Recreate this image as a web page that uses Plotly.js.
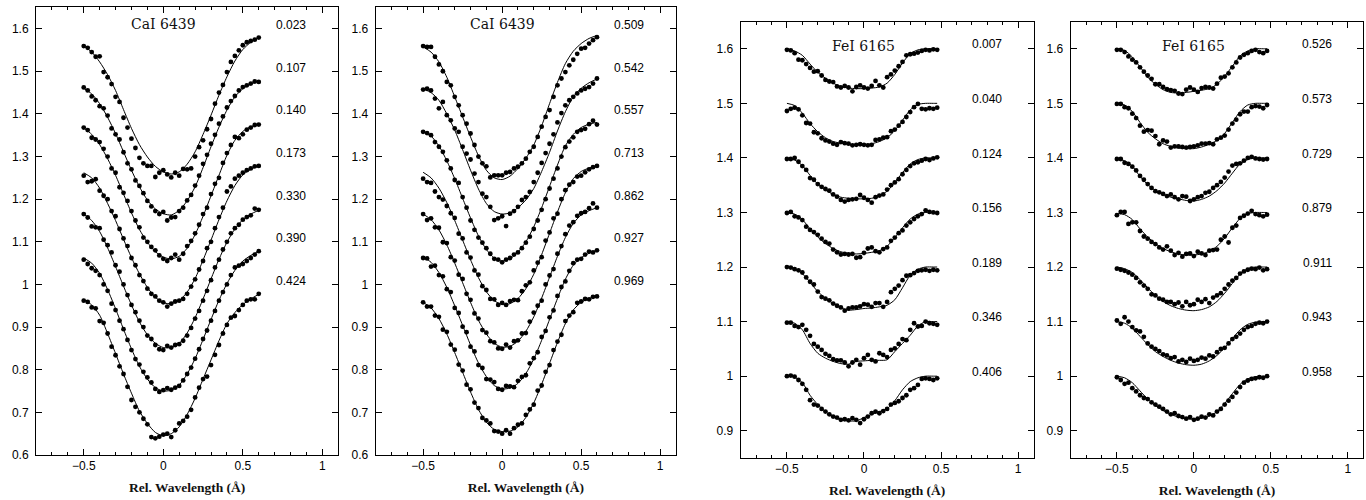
<!DOCTYPE html>
<html>
<head>
<meta charset="utf-8">
<script src="https://cdn.plot.ly/plotly-3.0.1.min.js"></script>
<style>
  html, body { margin: 0; padding: 0; background: #ffffff; }
  #chart { width: 1366px; height: 500px; }
</style>
</head>
<body>
<div id="chart"></div>
<script>
// Line-profile series: normalized flux, each phase shifted upward by 0.1 for display.

// ---- Ca I 6439: wavelength grids (Å, relative to line centre) ----
const caObsX = [-0.5,-0.475,-0.45,-0.425,-0.4,-0.375,-0.35,-0.325,-0.3,-0.275,-0.25,-0.225,-0.2,-0.175,-0.15,-0.125,-0.1,-0.075,-0.05,-0.025,0,0.025,0.05,0.075,0.1,0.125,0.15,0.175,0.2,0.225,0.25,0.275,0.3,0.325,0.35,0.375,0.4,0.425,0.45,0.475,0.5,0.525,0.55,0.575,0.6];
const caFitX = [-0.5,-0.45,-0.4,-0.35,-0.3,-0.25,-0.2,-0.15,-0.1,-0.05,0,0.05,0.1,0.15,0.2,0.25,0.3,0.35,0.4,0.45,0.5,0.55,0.6];

// ---- Fe I 6165: wavelength grids ----
const feObsX = [-0.5,-0.475,-0.45,-0.425,-0.4,-0.375,-0.35,-0.325,-0.3,-0.275,-0.25,-0.225,-0.2,-0.175,-0.15,-0.125,-0.1,-0.075,-0.05,-0.025,0,0.025,0.05,0.075,0.1,0.125,0.15,0.175,0.2,0.225,0.25,0.275,0.3,0.325,0.35,0.375,0.4,0.425,0.45,0.475];
const feFitX = [-0.5,-0.45,-0.4,-0.35,-0.3,-0.25,-0.2,-0.15,-0.1,-0.05,0,0.05,0.1,0.15,0.2,0.25,0.3,0.35,0.4,0.45,0.475];

// ---- Panel 1: Ca I, first half of the cycle ----
const caPhasesA = ['0.023','0.107','0.140','0.173','0.330','0.390','0.424'];
const caObsA = [
  [1.559,1.555,1.545,1.534,1.535,1.498,1.486,1.470,1.440,1.428,1.391,1.368,1.342,1.320,1.297,1.284,1.278,1.278,1.252,1.262,1.268,1.258,1.251,1.262,1.255,1.271,1.270,1.272,1.300,1.322,1.338,1.364,1.388,1.424,1.450,1.468,1.498,1.522,1.536,1.549,1.561,1.568,1.571,1.574,1.579],
  [1.462,1.455,1.441,1.432,1.418,1.413,1.396,1.366,1.352,1.340,1.310,1.284,1.270,1.244,1.231,1.214,1.196,1.183,1.172,1.165,1.170,1.150,1.157,1.158,1.172,1.180,1.197,1.210,1.232,1.255,1.283,1.304,1.330,1.351,1.377,1.394,1.415,1.430,1.442,1.455,1.463,1.467,1.471,1.476,1.475],
  [1.368,1.362,1.344,1.340,1.334,1.318,1.300,1.272,1.262,1.228,1.215,1.196,1.172,1.150,1.134,1.110,1.100,1.088,1.080,1.068,1.060,1.055,1.062,1.070,1.058,1.072,1.090,1.102,1.120,1.140,1.165,1.180,1.212,1.236,1.250,1.285,1.308,1.327,1.346,1.343,1.352,1.363,1.368,1.374,1.375],
  [1.255,1.240,1.242,1.247,1.220,1.208,1.200,1.172,1.160,1.130,1.108,1.090,1.062,1.045,1.022,1.008,0.990,0.978,0.972,0.962,0.958,0.948,0.955,0.960,0.962,0.966,0.978,0.995,1.012,1.035,1.055,1.085,1.100,1.132,1.158,1.180,1.218,1.230,1.248,1.255,1.262,1.268,1.272,1.277,1.278],
  [1.165,1.157,1.136,1.134,1.132,1.105,1.092,1.075,1.045,1.030,1.000,0.975,0.952,0.935,0.915,0.900,0.880,0.872,0.858,0.848,0.846,0.856,0.852,0.858,0.860,0.868,0.880,0.898,0.920,0.938,0.962,0.985,1.010,1.040,1.058,1.082,1.100,1.120,1.132,1.140,1.152,1.158,1.162,1.178,1.175],
  [1.058,1.048,1.038,1.032,1.022,1.000,0.985,0.955,0.940,0.915,0.895,0.870,0.846,0.825,0.812,0.795,0.782,0.770,0.755,0.748,0.752,0.757,0.753,0.758,0.762,0.775,0.790,0.805,0.826,0.848,0.872,0.892,0.915,0.938,0.962,0.982,1.000,1.022,1.040,1.044,1.048,1.055,1.062,1.070,1.078],
  [0.962,0.959,0.946,0.944,0.914,0.910,0.885,0.854,0.834,0.808,0.790,0.760,0.729,0.713,0.700,0.685,0.672,0.642,0.639,0.643,0.648,0.650,0.642,0.658,0.674,0.680,0.690,0.706,0.735,0.758,0.778,0.784,0.811,0.835,0.858,0.885,0.905,0.922,0.926,0.940,0.952,0.962,0.965,0.965,0.978]
];
const caFitA = [
  [1.559,1.545,1.522,1.492,1.455,1.410,1.366,1.328,1.299,1.277,1.264,1.259,1.264,1.282,1.311,1.352,1.397,1.444,1.487,1.524,1.551,1.568,1.579],
  [1.460,1.447,1.424,1.392,1.354,1.311,1.268,1.229,1.198,1.177,1.166,1.163,1.174,1.196,1.229,1.274,1.323,1.369,1.409,1.440,1.459,1.470,1.477],
  [1.367,1.352,1.328,1.295,1.256,1.212,1.168,1.129,1.099,1.077,1.064,1.060,1.066,1.085,1.117,1.160,1.208,1.256,1.303,1.338,1.359,1.370,1.376],
  [1.262,1.250,1.226,1.190,1.150,1.106,1.063,1.025,0.993,0.970,0.957,0.955,0.962,0.982,1.014,1.057,1.104,1.152,1.196,1.232,1.257,1.270,1.278],
  [1.165,1.150,1.124,1.086,1.042,0.996,0.952,0.912,0.882,0.862,0.852,0.852,0.862,0.886,0.922,0.966,1.013,1.059,1.099,1.130,1.152,1.165,1.174],
  [1.062,1.050,1.026,0.988,0.943,0.895,0.849,0.808,0.778,0.758,0.750,0.752,0.764,0.790,0.826,0.871,0.918,0.963,1.002,1.033,1.055,1.068,1.078],
  [0.965,0.952,0.928,0.885,0.838,0.790,0.745,0.703,0.674,0.653,0.645,0.650,0.666,0.695,0.733,0.778,0.823,0.868,0.908,0.934,0.953,0.966,0.977]
];

// ---- Panel 2: Ca I, second half of the cycle ----
const caPhasesB = ['0.509','0.542','0.557','0.713','0.862','0.927','0.969'];
const caObsB = [
  [1.559,1.557,1.557,1.534,1.516,1.500,1.475,1.467,1.440,1.420,1.397,1.377,1.354,1.327,1.300,1.284,1.277,1.251,1.256,1.256,1.256,1.262,1.264,1.272,1.276,1.284,1.295,1.311,1.323,1.346,1.370,1.393,1.409,1.440,1.467,1.483,1.498,1.514,1.527,1.541,1.553,1.555,1.565,1.573,1.580],
  [1.457,1.459,1.455,1.436,1.413,1.428,1.397,1.385,1.366,1.358,1.323,1.307,1.293,1.260,1.240,1.213,1.205,1.182,1.151,1.155,1.160,1.137,1.166,1.172,1.182,1.198,1.205,1.217,1.240,1.262,1.285,1.308,1.330,1.352,1.380,1.402,1.420,1.432,1.440,1.448,1.455,1.459,1.463,1.471,1.483],
  [1.358,1.355,1.350,1.334,1.323,1.311,1.291,1.272,1.245,1.238,1.205,1.180,1.150,1.128,1.110,1.098,1.085,1.072,1.060,1.058,1.052,1.058,1.062,1.070,1.075,1.085,1.098,1.112,1.130,1.150,1.175,1.200,1.225,1.248,1.272,1.300,1.322,1.335,1.345,1.358,1.362,1.365,1.376,1.384,1.375],
  [1.248,1.240,1.238,1.218,1.205,1.199,1.184,1.167,1.156,1.119,1.108,1.075,1.063,1.033,1.023,0.996,0.987,0.966,0.965,0.952,0.957,0.952,0.961,0.964,0.963,0.984,0.998,1.005,1.033,1.051,1.064,1.103,1.122,1.155,1.166,1.200,1.221,1.234,1.240,1.253,1.255,1.263,1.270,1.275,1.278],
  [1.165,1.151,1.155,1.134,1.133,1.099,1.097,1.064,1.056,1.023,1.013,0.978,0.964,0.932,0.920,0.893,0.887,0.867,0.864,0.850,0.849,0.859,0.852,0.867,0.869,0.885,0.886,0.913,0.934,0.950,0.962,1.000,1.021,1.036,1.072,1.090,1.118,1.138,1.146,1.161,1.167,1.170,1.179,1.190,1.180],
  [1.062,1.061,1.042,1.044,1.022,1.019,0.989,0.982,0.945,0.933,0.901,0.888,0.854,0.843,0.811,0.804,0.778,0.777,0.771,0.755,0.753,0.762,0.761,0.759,0.774,0.783,0.787,0.815,0.827,0.841,0.877,0.891,0.923,0.939,0.973,0.994,1.007,1.032,1.050,1.058,1.060,1.070,1.077,1.075,1.080],
  [0.958,0.948,0.948,0.927,0.924,0.894,0.889,0.859,0.847,0.812,0.798,0.765,0.754,0.723,0.710,0.687,0.681,0.674,0.656,0.655,0.650,0.658,0.650,0.663,0.671,0.674,0.694,0.707,0.718,0.751,0.763,0.795,0.811,0.846,0.866,0.882,0.914,0.927,0.935,0.957,0.960,0.966,0.965,0.971,0.972]
];
const caFitB = [
  [1.557,1.545,1.522,1.486,1.440,1.393,1.346,1.302,1.268,1.250,1.246,1.254,1.272,1.296,1.327,1.372,1.424,1.474,1.518,1.547,1.565,1.577,1.584],
  [1.459,1.450,1.432,1.400,1.362,1.316,1.268,1.224,1.190,1.171,1.165,1.168,1.180,1.198,1.225,1.265,1.310,1.360,1.405,1.440,1.460,1.473,1.482],
  [1.358,1.348,1.325,1.290,1.248,1.202,1.156,1.114,1.082,1.062,1.055,1.060,1.076,1.100,1.135,1.180,1.230,1.280,1.325,1.352,1.368,1.376,1.380],
  [1.263,1.250,1.226,1.192,1.150,1.104,1.058,1.016,0.983,0.962,0.953,0.955,0.967,0.990,1.024,1.070,1.120,1.170,1.215,1.248,1.265,1.273,1.278],
  [1.165,1.152,1.128,1.093,1.050,1.004,0.958,0.916,0.884,0.862,0.853,0.855,0.867,0.890,0.924,0.968,1.017,1.066,1.110,1.143,1.163,1.173,1.180],
  [1.065,1.052,1.028,0.993,0.950,0.904,0.858,0.816,0.784,0.763,0.755,0.757,0.768,0.791,0.825,0.869,0.918,0.967,1.012,1.045,1.063,1.073,1.080],
  [0.958,0.945,0.920,0.884,0.840,0.794,0.748,0.707,0.677,0.660,0.655,0.656,0.666,0.688,0.722,0.766,0.815,0.864,0.908,0.940,0.958,0.967,0.972]
];

// ---- Panel 3: Fe I, first half of the cycle ----
const fePhasesA = ['0.007','0.040','0.124','0.156','0.189','0.346','0.406'];
const feObsA = [
  [1.598,1.597,1.592,1.580,1.579,1.572,1.565,1.558,1.559,1.551,1.543,1.540,1.539,1.531,1.529,1.532,1.529,1.522,1.530,1.533,1.529,1.527,1.532,1.541,1.533,1.529,1.548,1.553,1.560,1.568,1.576,1.588,1.590,1.591,1.593,1.596,1.598,1.597,1.599,1.598],
  [1.486,1.490,1.492,1.489,1.478,1.464,1.463,1.447,1.445,1.436,1.432,1.430,1.426,1.424,1.429,1.427,1.426,1.423,1.424,1.425,1.424,1.423,1.424,1.433,1.434,1.437,1.438,1.449,1.452,1.459,1.466,1.475,1.484,1.493,1.499,1.490,1.489,1.491,1.490,1.492],
  [1.398,1.398,1.400,1.393,1.385,1.378,1.363,1.360,1.352,1.347,1.343,1.340,1.333,1.329,1.323,1.320,1.323,1.324,1.325,1.332,1.327,1.323,1.318,1.328,1.331,1.333,1.342,1.350,1.355,1.361,1.370,1.378,1.385,1.390,1.392,1.395,1.398,1.396,1.399,1.401],
  [1.299,1.301,1.293,1.291,1.286,1.274,1.268,1.264,1.259,1.252,1.246,1.243,1.232,1.227,1.223,1.224,1.223,1.224,1.217,1.218,1.226,1.234,1.236,1.229,1.227,1.233,1.236,1.248,1.254,1.262,1.267,1.276,1.282,1.288,1.293,1.297,1.304,1.301,1.300,1.299],
  [1.200,1.199,1.196,1.194,1.190,1.181,1.173,1.168,1.155,1.145,1.142,1.139,1.133,1.129,1.126,1.120,1.124,1.126,1.126,1.128,1.132,1.131,1.127,1.134,1.134,1.127,1.136,1.154,1.160,1.166,1.176,1.184,1.185,1.189,1.193,1.194,1.195,1.193,1.195,1.194],
  [1.098,1.098,1.092,1.090,1.094,1.085,1.074,1.059,1.054,1.048,1.041,1.037,1.031,1.029,1.029,1.025,1.018,1.025,1.030,1.021,1.033,1.039,1.030,1.027,1.042,1.039,1.035,1.048,1.051,1.059,1.068,1.066,1.085,1.097,1.091,1.092,1.100,1.097,1.096,1.094],
  [1.000,1.001,0.999,0.993,0.986,0.975,0.956,0.948,0.946,0.940,0.935,0.930,0.926,0.924,0.920,0.921,0.919,0.923,0.920,0.914,0.921,0.926,0.932,0.935,0.932,0.936,0.940,0.948,0.951,0.954,0.960,0.965,0.975,0.978,0.984,0.995,0.996,0.995,0.993,0.996]
];
const feFitA = [
  [1.600,1.596,1.588,1.572,1.557,1.546,1.537,1.531,1.528,1.527,1.527,1.528,1.530,1.537,1.553,1.574,1.591,1.598,1.600,1.600,1.600],
  [1.500,1.496,1.482,1.463,1.448,1.437,1.430,1.427,1.425,1.424,1.424,1.426,1.430,1.437,1.450,1.469,1.488,1.498,1.500,1.500,1.500],
  [1.398,1.396,1.386,1.368,1.352,1.341,1.333,1.328,1.326,1.325,1.325,1.326,1.330,1.339,1.355,1.373,1.389,1.397,1.400,1.400,1.400],
  [1.300,1.297,1.287,1.270,1.255,1.243,1.234,1.228,1.225,1.224,1.225,1.227,1.230,1.238,1.254,1.272,1.288,1.297,1.300,1.300,1.300],
  [1.200,1.197,1.188,1.172,1.155,1.143,1.133,1.125,1.121,1.122,1.124,1.125,1.127,1.130,1.140,1.162,1.185,1.196,1.200,1.200,1.200],
  [1.100,1.097,1.085,1.060,1.042,1.033,1.027,1.023,1.022,1.027,1.028,1.029,1.029,1.030,1.045,1.060,1.075,1.092,1.100,1.100,1.100],
  [1.000,0.998,0.988,0.965,0.948,0.935,0.925,0.920,0.918,0.918,0.924,0.930,0.935,0.940,0.955,0.975,0.990,0.997,1.000,1.000,1.000]
];

// ---- Panel 4: Fe I, second half of the cycle ----
const fePhasesB = ['0.526','0.573','0.729','0.879','0.911','0.943','0.958'];
const feObsB = [
  [1.598,1.598,1.594,1.586,1.580,1.575,1.566,1.558,1.551,1.545,1.535,1.535,1.530,1.526,1.524,1.523,1.518,1.517,1.525,1.529,1.525,1.521,1.528,1.530,1.529,1.527,1.536,1.547,1.549,1.555,1.566,1.575,1.584,1.589,1.592,1.596,1.598,1.594,1.592,1.596],
  [1.499,1.499,1.493,1.491,1.481,1.473,1.459,1.448,1.451,1.450,1.440,1.425,1.432,1.430,1.419,1.421,1.421,1.420,1.419,1.420,1.421,1.423,1.426,1.426,1.427,1.425,1.434,1.437,1.441,1.452,1.463,1.470,1.480,1.485,1.485,1.493,1.495,1.494,1.491,1.497],
  [1.398,1.398,1.391,1.389,1.384,1.377,1.367,1.360,1.352,1.345,1.339,1.337,1.334,1.330,1.333,1.328,1.324,1.330,1.329,1.321,1.324,1.328,1.330,1.336,1.338,1.345,1.350,1.356,1.364,1.375,1.386,1.389,1.390,1.395,1.400,1.402,1.399,1.398,1.397,1.398],
  [1.295,1.301,1.301,1.279,1.282,1.282,1.266,1.256,1.252,1.246,1.242,1.236,1.232,1.238,1.230,1.222,1.226,1.219,1.224,1.225,1.220,1.228,1.225,1.222,1.230,1.231,1.232,1.250,1.256,1.245,1.272,1.276,1.290,1.294,1.298,1.303,1.297,1.295,1.293,1.296],
  [1.197,1.195,1.193,1.190,1.186,1.180,1.172,1.166,1.160,1.150,1.148,1.142,1.140,1.136,1.136,1.132,1.135,1.128,1.136,1.130,1.132,1.140,1.136,1.141,1.134,1.144,1.148,1.152,1.160,1.168,1.175,1.180,1.188,1.192,1.195,1.197,1.196,1.199,1.194,1.196],
  [1.102,1.096,1.108,1.100,1.090,1.084,1.082,1.072,1.060,1.054,1.050,1.046,1.040,1.038,1.033,1.035,1.027,1.030,1.026,1.032,1.028,1.030,1.034,1.032,1.038,1.036,1.044,1.050,1.052,1.060,1.068,1.072,1.078,1.085,1.090,1.092,1.096,1.098,1.097,1.100],
  [0.998,0.993,0.986,0.988,0.978,0.972,0.965,0.960,0.958,0.952,0.948,0.944,0.940,0.935,0.930,0.932,0.927,0.925,0.922,0.925,0.920,0.922,0.926,0.924,0.930,0.928,0.935,0.940,0.948,0.955,0.962,0.970,0.980,0.988,0.992,0.995,0.996,0.998,0.997,1.000]
];
const feFitB = [
  [1.600,1.597,1.585,1.567,1.548,1.535,1.525,1.520,1.519,1.520,1.522,1.524,1.527,1.535,1.550,1.568,1.587,1.596,1.600,1.600,1.600],
  [1.500,1.497,1.485,1.465,1.447,1.435,1.426,1.421,1.418,1.417,1.417,1.420,1.425,1.432,1.445,1.465,1.485,1.497,1.500,1.500,1.500],
  [1.397,1.395,1.385,1.366,1.351,1.340,1.333,1.328,1.325,1.322,1.321,1.324,1.330,1.340,1.354,1.372,1.389,1.397,1.400,1.400,1.400],
  [1.298,1.296,1.287,1.270,1.255,1.243,1.234,1.228,1.224,1.222,1.222,1.224,1.229,1.238,1.253,1.272,1.289,1.298,1.300,1.300,1.300],
  [1.200,1.197,1.190,1.177,1.162,1.148,1.137,1.129,1.124,1.121,1.120,1.122,1.127,1.137,1.152,1.170,1.187,1.197,1.200,1.200,1.200],
  [1.100,1.097,1.088,1.073,1.058,1.045,1.036,1.029,1.024,1.021,1.020,1.022,1.028,1.038,1.052,1.069,1.085,1.095,1.099,1.100,1.100],
  [1.000,0.997,0.988,0.973,0.958,0.946,0.937,0.930,0.925,0.922,0.921,0.923,0.927,0.935,0.950,0.968,0.985,0.995,0.999,1.000,1.000]
];

// Panel titles and continuum levels the phase labels sit on
const panelTitles = ['CaI 6439', 'CaI 6439', 'FeI 6165', 'FeI 6165'];
const labelLevels = [1.6, 1.5, 1.4, 1.3, 1.2, 1.1, 1.0];

// ---- drawing ----
const W = 1366, H = 500;
const panels = [
  { obsX: caObsX, fitX: caFitX, obs: caObsA, fit: caFitA, phases: caPhasesA, yr: [0.6, 1.65], titleY: 1.61, px: [36, 338.3], py: [7.3, 455] },
  { obsX: caObsX, fitX: caFitX, obs: caObsB, fit: caFitB, phases: caPhasesB, yr: [0.6, 1.65], titleY: 1.61, px: [375.7, 676], py: [7.3, 455] },
  { obsX: feObsX, fitX: feFitX, obs: feObsA, fit: feFitA, phases: fePhasesA, yr: [0.85, 1.65], titleY: 1.606, px: [740.7, 1033.5], py: [21.5, 458] },
  { obsX: feObsX, fitX: feFitX, obs: feObsB, fit: feFitB, phases: fePhasesB, yr: [0.85, 1.65], titleY: 1.606, px: [1070.7, 1363.3], py: [21.5, 458] }
];

const traces = [];
const annotations = [];
const layout = {
  width: W, height: H,
  margin: { l: 0, r: 0, t: 0, b: 0 },
  paper_bgcolor: '#ffffff', plot_bgcolor: '#ffffff',
  showlegend: false,
  font: { family: 'Liberation Sans, Arial, sans-serif', size: 12, color: '#000' },
  annotations: annotations
};

const tickFont = { family: 'Liberation Sans, Arial, sans-serif', size: 12, color: '#000' };

panels.forEach((p, i) => {
  const n = i + 1;
  const xa = n === 1 ? 'x' : 'x' + n;
  const ya = n === 1 ? 'y' : 'y' + n;
  const xKey = n === 1 ? 'xaxis' : 'xaxis' + n;
  const yKey = n === 1 ? 'yaxis' : 'yaxis' + n;

  p.obs.forEach((ys) => {
    traces.push({
      x: p.obsX, y: ys, xaxis: xa, yaxis: ya,
      type: 'scatter', mode: 'markers', cliponaxis: false,
      marker: { color: '#000', size: 4.8 },
      hoverinfo: 'skip'
    });
  });
  p.fit.forEach((ys) => {
    traces.push({
      x: p.fitX, y: ys, xaxis: xa, yaxis: ya,
      type: 'scatter', mode: 'lines',
      line: { color: '#000', width: 1, shape: 'spline', smoothing: 0.7 },
      hoverinfo: 'skip'
    });
  });

  layout[xKey] = {
    domain: [p.px[0] / W, p.px[1] / W],
    anchor: ya,
    range: [-0.8, 1.1],
    tick0: 0, dtick: 0.5,
    ticks: 'inside', ticklen: 6, tickwidth: 1, tickcolor: '#000',
    minor: { dtick: 0.1, ticks: 'inside', ticklen: 3, tickwidth: 1, tickcolor: '#000' },
    showline: true, linecolor: '#000', linewidth: 1, mirror: 'ticks',
    showgrid: false, zeroline: false,
    tickfont: tickFont,
    title: { text: 'Rel. Wavelength (Å)', font: { family: 'Liberation Serif, Times New Roman, serif', size: 13.5, color: '#111', weight: 'bold' }, standoff: 10 }
  };
  layout[yKey] = {
    domain: [1 - p.py[1] / H, 1 - p.py[0] / H],
    anchor: xa,
    range: p.yr,
    tick0: 0, dtick: 0.1,
    ticks: 'inside', ticklen: 6, tickwidth: 1, tickcolor: '#000',
    showline: true, linecolor: '#000', linewidth: 1, mirror: 'ticks',
    showgrid: false, zeroline: false,
    tickfont: tickFont, ticklabelstandoff: 4
  };

  annotations.push({
    xref: xa, yref: ya, x: 0, y: p.titleY,
    text: panelTitles[i], showarrow: false, xanchor: 'center', yanchor: 'middle',
    font: { family: 'DejaVu Serif, serif', size: 14, color: '#111' }
  });
  p.phases.forEach((ph, k) => {
    annotations.push({
      xref: xa, yref: ya, x: 0.8, y: labelLevels[k] + 0.008,
      text: ph, showarrow: false, xanchor: 'center', yanchor: 'middle',
      font: { family: 'Liberation Sans, Arial, sans-serif', size: 12, color: '#000' }
    });
  });
});

Plotly.newPlot('chart', traces, layout, { staticPlot: true, displayModeBar: false });
</script>
</body>
</html>
